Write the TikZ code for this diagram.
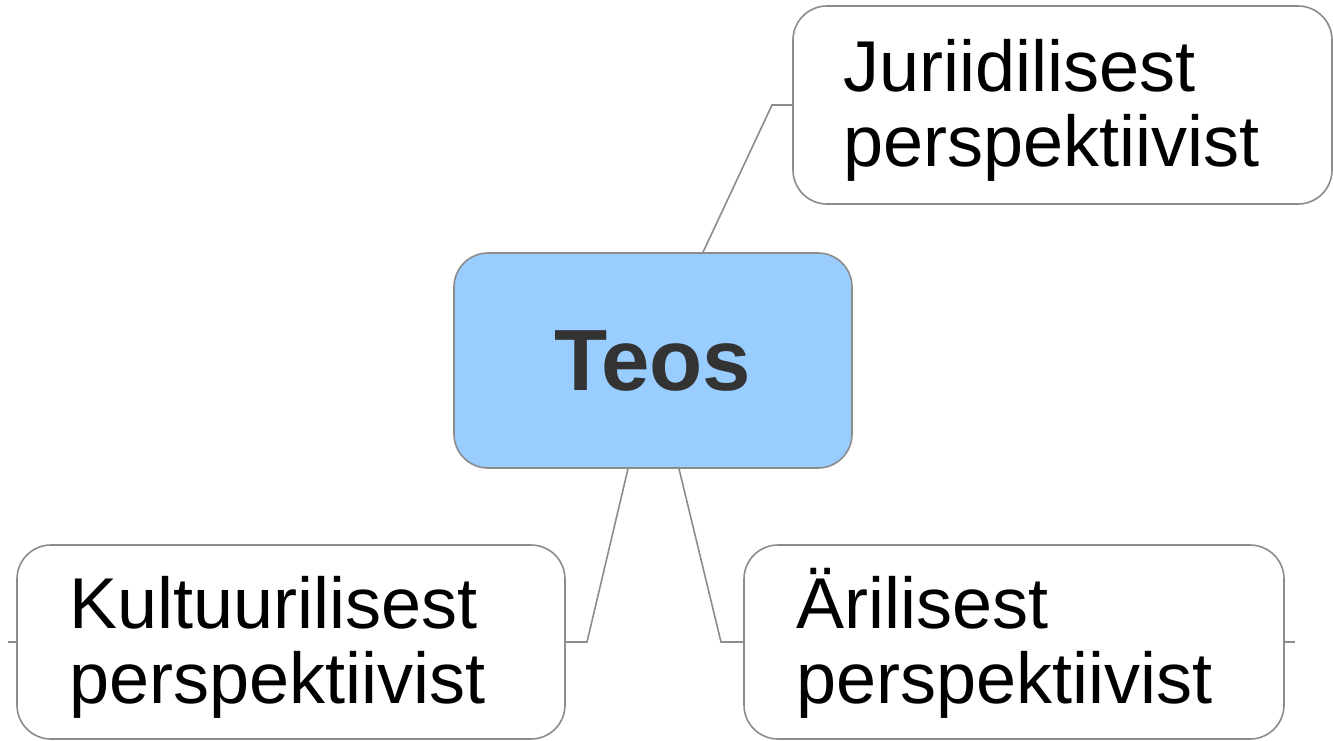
\documentclass[tikz,border=0pt]{standalone}
\usepackage{fontspec}
\setmainfont{Liberation Sans}
\definecolor{linegray}{HTML}{8C8C8C}
\definecolor{teosfill}{HTML}{99CCFF}
\definecolor{teostext}{HTML}{333333}
\begin{document}
\begin{tikzpicture}[x=1pt,y=-1pt,
  box/.style={draw=linegray, line width=1.6pt, rounded corners=34pt, fill=white, inner sep=0pt},
  conn/.style={draw=linegray, line width=1.6pt, line join=miter},
  lbl/.style={anchor=base west, inner sep=0pt, text=black},
  big/.style={lbl, font=\fontsize{72}{75}\selectfont}]
\useasboundingbox (0,0) rectangle (1333,741);

% boxes
\node[box, fill=teosfill, minimum width=398pt, minimum height=215pt,
      font=\fontsize{87}{90}\selectfont\bfseries, text=teostext] (teos) at (653,360.5) {Teos};
\node[box, minimum width=539pt, minimum height=198pt] (jur) at (1062.5,105) {};
\node[box, minimum width=548pt, minimum height=194pt] (kult) at (291,642) {};
\node[box, minimum width=540pt, minimum height=194pt] (aril) at (1014,642) {};

% texts
\node[big] (jur1) at (843,92) {Juriidilisest};
\node[big] (jur2) at (843,167) {perspektiivist};
\node[big] (kult1) at (69,628) {Kultuurilisest};
\node[big] (kult2) at (69,703) {perspektiivist};
\node[big] (aril1) at (796,628) {Ärilisest};
\node[big] (aril2) at (796,703) {perspektiivist};

% connector bends and free ends
\coordinate (jk) at (772,105);
\coordinate (kk) at (587,642);
\coordinate (ak) at (721,642);
\coordinate (kstub) at (8,642);
\coordinate (astub) at (1295,642);

% connectors
\draw[conn] ([xshift=50pt]teos.north) -- (jk) -- (jur.west);
\draw[conn] ([xshift=-25pt]teos.south) -- (kk) -- (kult.east);
\draw[conn] ([xshift=26pt]teos.south) -- (ak) -- (aril.west);
\draw[conn] (kult.west) -- (kstub);
\draw[conn] (aril.east) -- (astub);
\end{tikzpicture}
\end{document}
